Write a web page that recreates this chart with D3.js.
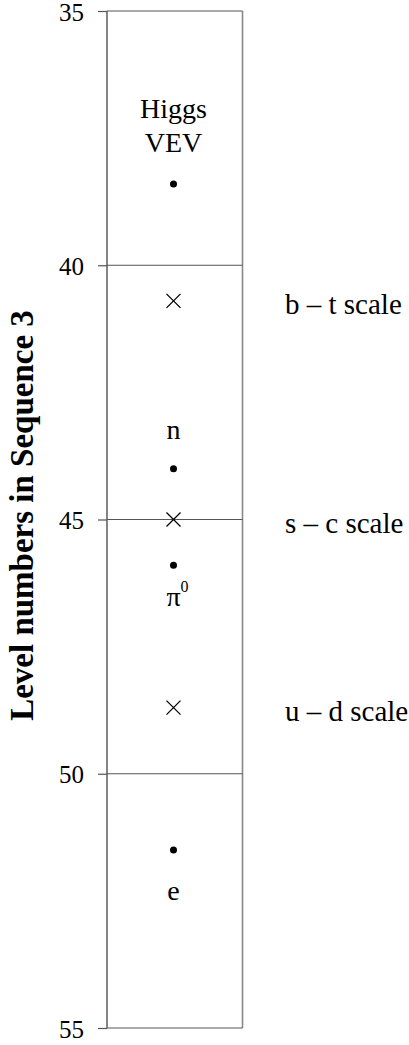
<!DOCTYPE html>
<html>
<head>
<meta charset="utf-8">
<script src="https://cdn.jsdelivr.net/npm/d3@7"></script>
<style>
  html, body { margin: 0; padding: 0; background: #fff; }
  svg { display: block; font-family: "Liberation Serif", "Times New Roman", serif; }
</style>
</head>
<body>
<div id="container"></div>
<script>
const levelDomain = [35, 55];
const tickValues = [35, 40, 45, 50, 55];
const gridLevels = [40, 45, 50];
const scaleNames = ['b – t scale', 's – c scale', 'u – d scale'];
const scaleLevels = [40.7, 45.0, 48.7];
const particleNames = ['Higgs VEV', 'n', 'π0', 'e'];
const particleLevels = [38.4, 44.0, 45.9, 51.5];
const axisTitle = 'Level numbers in Sequence 3';

const width = 409, height = 1045;
const plotLeft = 107, plotRight = 242.5, plotTop = 11, plotBottom = 1028;
const cx = 173.5;

const svg = d3.select('#container').append('svg')
  .attr('width', width)
  .attr('height', height);

const y = d3.scaleLinear().domain(levelDomain).range([plotTop, plotBottom]);

// frame
svg.append('line')
  .attr('x1', plotLeft).attr('x2', plotLeft).attr('y1', y(35)).attr('y2', y(55))
  .attr('stroke', '#333').attr('stroke-width', 1.2);
svg.append('line')
  .attr('x1', plotRight).attr('x2', plotRight).attr('y1', y(35)).attr('y2', y(55))
  .attr('stroke', '#888').attr('stroke-width', 1.6);
svg.append('g')
  .selectAll('line')
  .data([35, 55])
  .join('line')
    .attr('x1', plotLeft).attr('x2', plotRight)
    .attr('y1', d => y(d)).attr('y2', d => y(d))
    .attr('stroke', '#555').attr('stroke-width', 1.2);

// horizontal dividers
svg.append('g')
  .selectAll('line')
  .data(gridLevels)
  .join('line')
    .attr('x1', plotLeft).attr('x2', plotRight)
    .attr('y1', d => y(d)).attr('y2', d => y(d))
    .attr('stroke', '#555').attr('stroke-width', 1.2);

// axis
const axis = d3.axisLeft(y).tickValues(tickValues).tickSize(9).tickPadding(14);
const gAxis = svg.append('g')
  .attr('transform', `translate(${plotLeft},0)`)
  .call(axis);
gAxis.select('.domain').remove();
gAxis.selectAll('.tick line').attr('stroke', '#555').attr('stroke-width', 1.2);
gAxis.selectAll('.tick text')
  .attr('fill', '#000')
  .attr('dy', '0.36em')
  .style('font-family', '"Liberation Serif", "Times New Roman", serif')
  .style('font-size', '25px');

svg.append('text')
  .attr('transform', `translate(33,${(plotTop + plotBottom) / 2 - 4}) rotate(-90)`)
  .attr('text-anchor', 'middle')
  .style('font-size', '33px')
  .style('font-weight', 'bold')
  .text(axisTitle);

// quark scale crosses
const arm = 7;
const crosses = svg.append('g')
  .selectAll('g')
  .data(scaleLevels)
  .join('g')
    .attr('transform', d => `translate(${cx},${y(d)})`);
crosses.append('path')
  .attr('d', `M${-arm},${-arm}L${arm},${arm}M${-arm},${arm}L${arm},${-arm}`)
  .attr('stroke', '#000').attr('stroke-width', 1.3).attr('fill', 'none');

svg.append('g')
  .selectAll('text')
  .data(scaleNames)
  .join('text')
    .attr('x', 285)
    .attr('y', (d, i) => y(scaleLevels[i]) + 13)
    .style('font-size', '29px')
    .text(d => d);

// particle dots
svg.append('g')
  .selectAll('circle')
  .data(particleLevels)
  .join('circle')
    .attr('cx', cx)
    .attr('cy', d => y(d))
    .attr('r', 3.5)
    .attr('fill', '#000');

const labelOffsets = { 'Higgs VEV': [-66, -32], 'n': [-30], 'π0': [41], 'e': [50] };
const labels = svg.append('g')
  .selectAll('text')
  .data(particleNames)
  .join('text')
    .attr('text-anchor', 'middle')
    .style('font-size', '28px');

labels.each(function (name, i) {
  const t = d3.select(this);
  const yy = y(particleLevels[i]);
  const offs = labelOffsets[name];
  if (name === 'Higgs VEV') {
    name.split(' ').forEach((w, k) => {
      t.append('tspan').attr('x', cx).attr('y', yy + offs[k]).text(w);
    });
  } else if (name === 'π0') {
    t.attr('x', cx + 4).attr('y', yy + offs[0]);
    t.append('tspan').text('π');
    t.append('tspan').attr('dy', -14).style('font-size', '16px').text('0');
  } else {
    t.attr('x', cx).attr('y', yy + offs[0]).text(name);
  }
});
</script>
</body>
</html>
